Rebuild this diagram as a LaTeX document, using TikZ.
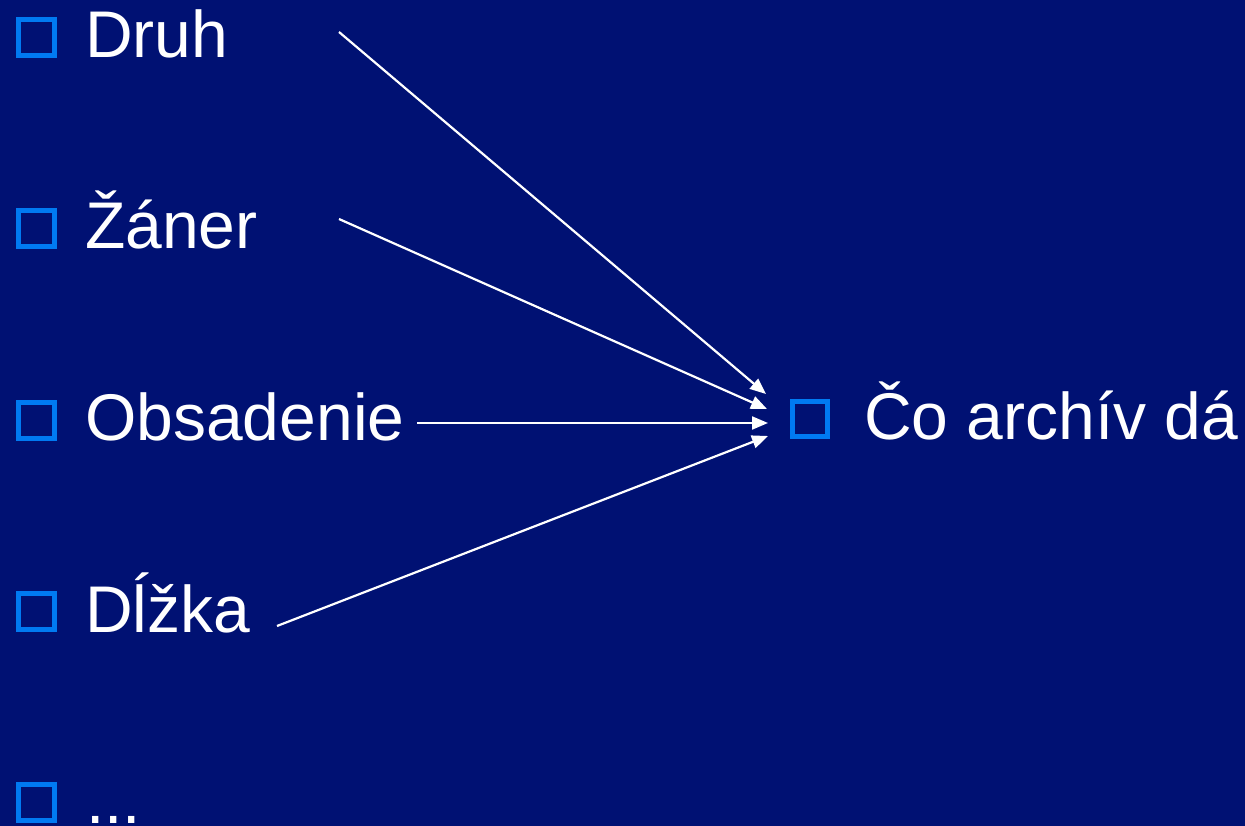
\documentclass[tikz,border=0pt]{standalone}
\usepackage{fontspec}
\setmainfont{Liberation Sans}
\usetikzlibrary{arrows.meta}
\definecolor{bgblue}{RGB}{0,17,115}
\definecolor{bulletblue}{RGB}{0,122,242}
\tikzset{
  item/.style={anchor=base west, inner sep=0pt, text=white, font=\fontsize{66}{72}\selectfont},
  bulletsq/.style={draw=bulletblue, line width=5pt},
  link/.style={draw=white, line width=2.2pt, -{Triangle[length=16pt,width=13pt]}}
}
\begin{document}
\begin{tikzpicture}[x=1pt,y=-1pt]
\fill[bgblue] (0,0) rectangle (1245,826);
\useasboundingbox (0,0) rectangle (1245,826);
% left bullets
\foreach \b in {58,249,440.5,632,823}{
  \draw[bulletsq] (18.5,\b-38.5) rectangle (54.5,\b-2.5);
}
\node[item] (druh) at (85,58) {Druh};
\node[item] (zaner) at (85,249) {Žáner};
\node[item] (obs) at (85,440.5) {Obsadenie};
\node[item] (dlzka) at (85,632) {Dĺžka};
\node[item] (dots) at (86,823) {...};
% right bullet and text
\draw[bulletsq] (792.5,401.5) rectangle (827.5,436.5);
\node[item] (co) at (864,439) {Čo archív dá};
% arrows
\coordinate (s1) at (339,32);
\coordinate (s2) at (339,219);
\coordinate (s3) at (417,423);
\coordinate (s4) at (277,626);
\coordinate (t1) at (766,394);
\coordinate (t2) at (767,409);
\coordinate (t3) at (768,423);
\coordinate (t4) at (768,436);
\draw[link] (s1) -- (t1);
\draw[link] (s2) -- (t2);
\draw[link] (s3) -- (t3);
\draw[link] (s4) -- (t4);
\end{tikzpicture}
\end{document}
